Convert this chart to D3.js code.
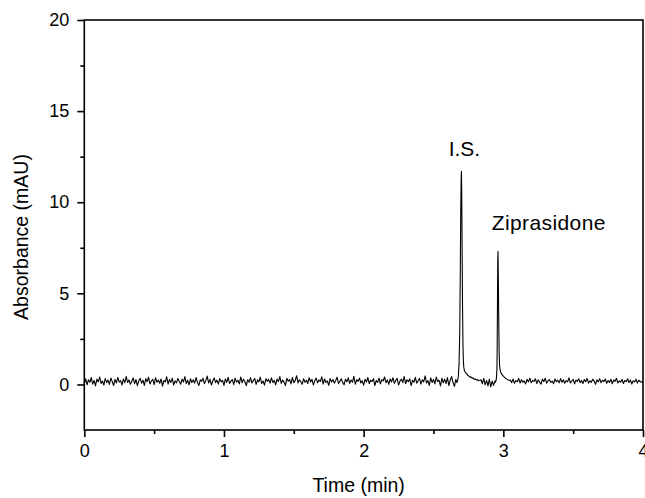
<!DOCTYPE html>
<html>
<head>
<meta charset="utf-8">
<script src="https://cdn.jsdelivr.net/npm/d3@7"></script>
<style>
  body { margin: 0; background: #fff; }
  svg { display: block; font-family: Arial, "Liberation Sans", sans-serif; }
</style>
</head>
<body>
<svg id="chart" width="645" height="498"></svg>
<script>
// axis ticks
const xMajorTicks = [0, 1, 2, 3, 4]
const xMinorTicks = [0.5, 1.5, 2.5, 3.5]
const yMajorTicks = [0, 5, 10, 15, 20]
const yMinorTicks = [2.5, 7.5, 12.5, 17.5]

// detector samples every 0.01 min on the baseline
const sampleStep = 0.01

// baseline 0.00 - 2.66 min
const baseline1Start = 0
const baseline1 = [
  0.05,0.31,-0.02,0.26,0.12,0.38,0.02,0.22,-0.08,0.29,0.14,0.41,0.06,0.19,-0.04,0.33,0.10,0.24,0.00,0.35,
  0.16,-0.06,0.28,0.08,0.39,0.13,0.21,-0.03,0.30,0.09,0.44,0.11,0.25,0.01,0.18,0.36,0.04,0.27,-0.07,0.20,
  0.34,0.07,0.23,-0.05,0.32,0.15,0.40,0.03,0.19,0.28,-0.01,0.37,0.12,0.24,0.06,0.30,-0.09,0.22,0.14,0.42,
  0.02,0.27,0.11,0.35,-0.04,0.20,0.09,0.33,0.16,0.01,0.29,0.13,0.43,0.05,0.23,-0.02,0.31,0.10,0.26,0.07,
  0.38,0.12,-0.06,0.25,0.17,0.34,0.04,0.21,0.46,0.08,0.28,-0.03,0.19,0.36,0.10,0.24,0.02,0.32,0.14,0.22,
  -0.05,0.30,0.11,0.39,0.06,0.18,0.27,-0.01,0.35,0.13,0.23,0.03,0.41,0.09,0.29,0.15,-0.07,0.26,0.12,0.37,
  0.08,0.21,0.33,0.00,0.25,0.14,0.40,0.05,0.19,-0.04,0.31,0.17,0.28,0.07,0.36,0.11,0.22,-0.02,0.30,0.16,
  0.43,0.06,0.24,0.13,-0.06,0.34,0.18,0.27,0.03,0.39,0.10,0.21,0.48,0.08,0.26,0.15,0.01,0.32,0.12,0.23,
  0.05,0.37,0.14,0.28,-0.03,0.20,0.35,0.09,0.25,0.16,0.42,0.02,0.30,0.11,0.19,-0.05,0.33,0.13,0.27,0.07,
  0.22,0.40,0.04,0.18,0.31,0.10,-0.02,0.29,0.15,0.36,0.06,0.24,0.12,0.45,0.01,0.26,0.17,0.34,0.08,0.20,
  -0.04,0.28,0.13,0.38,0.05,0.23,0.16,0.32,-0.07,0.21,0.11,0.35,0.03,0.27,0.19,0.41,0.09,0.25,0.00,0.30,
  0.14,0.37,0.06,0.22,0.33,-0.03,0.18,0.29,0.10,0.44,0.04,0.26,0.15,0.31,-0.06,0.23,0.12,0.39,0.07,0.20,
  0.33,0.02,0.25,0.14,0.47,0.08,0.21,-0.05,0.36,0.11,0.27,0.03,0.40,0.16,0.23,-0.08,0.34,0.09,0.29,0.05,
  0.38,-0.06,0.24,0.43,0.10,-0.10,0.28
]

// I.S. peak (finer sampling)
const isPeakTime = [2.668,2.673,2.678,2.683,2.688,2.692,2.695,2.698,2.700,2.702,2.705,2.708,2.711,2.714,2.717,2.721,
  2.726,2.732,2.738,2.745,2.752,2.760,2.768,2.776,2.784,2.792,2.800,2.808,2.816,2.824,2.832]
const isPeakValue = [0.10,0.22,0.45,1.1,2.9,6.2,9.4,11.2,11.7,10.6,7.4,4.2,2.2,1.3,0.95,0.78,
  0.70,0.62,0.58,0.50,0.47,0.40,0.42,0.34,0.36,0.28,0.30,0.24,0.27,0.20,0.22]

// baseline between peaks 2.84 - 2.94 min
const baseline2Start = 2.84
const baseline2 = [0.26,0.04,0.33,-0.02,0.22,-0.08,0.29,-0.14,0.18,-0.06,0.20]

// Ziprasidone peak
const zipPeakTime = [2.945,2.950,2.954,2.956,2.958,2.960,2.962,2.964,2.967,2.970,2.973,2.977,2.982,2.988,2.995,
  3.002,3.010,3.018,3.026,3.034,3.042]
const zipPeakValue = [0.12,0.30,0.8,2.0,4.3,6.8,7.3,6.0,3.6,1.8,1.05,0.80,0.66,0.58,0.50,
  0.44,0.38,0.33,0.29,0.25,0.22]

// baseline 3.05 - 4.00 min
const baseline3Start = 3.05
const baseline3 = [
  0.24,0.10,0.30,0.06,0.21,0.15,0.33,0.08,0.26,0.12,
  0.19,0.03,0.28,0.14,0.35,0.09,0.22,0.17,0.31,0.05,
  0.25,0.13,0.02,0.29,0.16,0.34,0.07,0.20,0.27,0.11,
  0.18,0.04,0.30,0.15,0.23,0.09,0.32,0.12,0.26,0.06,
  0.21,0.14,0.36,0.08,0.19,0.28,0.03,0.24,0.17,0.31,
  0.10,0.22,0.05,0.27,0.15,0.33,0.07,0.20,0.12,0.29,
  0.18,0.01,0.25,0.14,0.32,0.09,0.23,0.16,0.30,0.06,
  0.21,0.11,0.28,0.04,0.24,0.17,0.34,0.08,0.19,0.13,
  0.27,0.05,0.22,0.15,0.31,0.10,0.25,0.02,0.20,0.14,
  0.29,0.07,0.23,0.16,0.12,0.18
]

const peakLabels = [
  {text: 'I.S.', t: 2.70, v: 11.7},
  {text: 'Ziprasidone', t: 2.96, v: 7.3}
]

function sampled(start, values) {
  return values.map((v, i) => [start + i * sampleStep, v])
}
function paired(times, values) {
  return times.map((t, i) => [t, values[i]])
}

const trace = [].concat(
  sampled(baseline1Start, baseline1),
  paired(isPeakTime, isPeakValue),
  sampled(baseline2Start, baseline2),
  paired(zipPeakTime, zipPeakValue),
  sampled(baseline3Start, baseline3)
).sort((a, b) => a[0] - b[0])

const margin = {left: 84.3, right: 643, top: 20, bottom: 430}
const svg = d3.select('#chart')

const x = d3.scaleLinear().domain([0, 4]).range([margin.left, margin.right])
const y = d3.scaleLinear().domain([-2.5, 20]).range([margin.bottom, margin.top])

// trace
svg.append('path')
  .datum(trace)
  .attr('d', d3.line().x(d => x(d[0])).y(d => y(d[1])))
  .attr('fill', 'none')
  .attr('stroke', '#000')
  .attr('stroke-width', 1.1)
  .attr('stroke-linejoin', 'round')

// frame
svg.append('rect')
  .attr('x', margin.left).attr('y', margin.top)
  .attr('width', margin.right - margin.left)
  .attr('height', margin.bottom - margin.top)
  .attr('fill', 'none').attr('stroke', '#000').attr('stroke-width', 1.6)

function styleAxis(g) {
  g.select('.domain').remove()
  g.selectAll('.tick line').attr('stroke', '#000').attr('stroke-width', 1.6)
  g.selectAll('.tick text').attr('fill', '#000').attr('font-size', 18)
    .attr('font-family', 'Arial, "Liberation Sans", sans-serif')
}

svg.append('g')
  .attr('transform', `translate(0,${margin.bottom})`)
  .call(d3.axisBottom(x).tickValues(xMajorTicks).tickSize(7).tickPadding(7).tickFormat(d3.format('d')))
  .call(styleAxis)
svg.append('g')
  .attr('transform', `translate(0,${margin.bottom})`)
  .call(d3.axisBottom(x).tickValues(xMinorTicks).tickSize(4).tickFormat(''))
  .call(styleAxis)
svg.append('g')
  .attr('transform', `translate(${margin.left},0)`)
  .call(d3.axisLeft(y).tickValues(yMajorTicks).tickSize(7).tickPadding(8).tickFormat(d3.format('d')))
  .call(styleAxis)
svg.append('g')
  .attr('transform', `translate(${margin.left},0)`)
  .call(d3.axisLeft(y).tickValues(yMinorTicks).tickSize(4).tickFormat(''))
  .call(styleAxis)

// axis titles
svg.append('text')
  .attr('x', (margin.left + margin.right) / 2 - 5)
  .attr('y', 492)
  .attr('text-anchor', 'middle')
  .attr('font-size', 19.5)
  .text('Time (min)')
svg.append('text')
  .attr('transform', `translate(28,${(margin.top + margin.bottom) / 2 + 12}) rotate(-90)`)
  .attr('text-anchor', 'middle')
  .attr('font-size', 19.5)
  .text('Absorbance (mAU)')

// peak labels
svg.append('text')
  .attr('x', x(peakLabels[0].t) + 3)
  .attr('y', y(peakLabels[0].v) - 15)
  .attr('text-anchor', 'middle')
  .attr('font-size', 21)
  .text(peakLabels[0].text)
svg.append('text')
  .attr('x', x(peakLabels[1].t) - 6)
  .attr('y', y(peakLabels[1].v) - 21)
  .attr('text-anchor', 'start')
  .attr('font-size', 21)
  .attr('letter-spacing', 0.4)
  .text(peakLabels[1].text)
</script>
</body>
</html>
